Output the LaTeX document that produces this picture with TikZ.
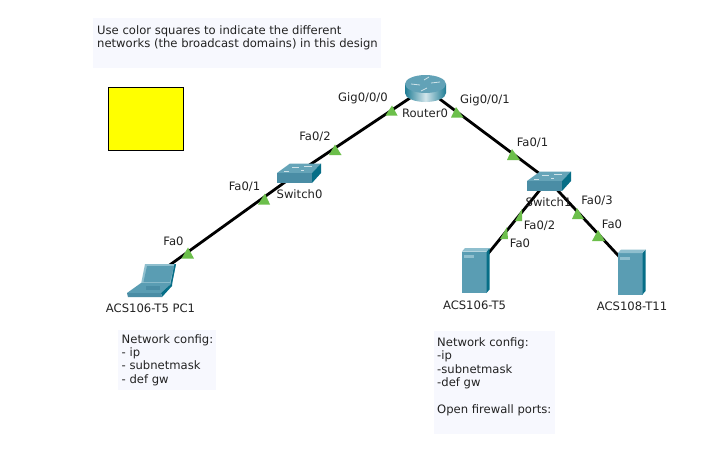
\documentclass[tikz,border=0pt]{standalone}
\usepackage{fontspec}
\setmainfont{DejaVu Sans}
\usetikzlibrary{calc}
\definecolor{note}{HTML}{F7F8FE}
\definecolor{linkgreen}{HTML}{6CBF4B}
\definecolor{teal1}{HTML}{5A9DB3}
\definecolor{teal2}{HTML}{4A8DA5}
\definecolor{teal3}{HTML}{066E87}
\definecolor{teal4}{HTML}{8FBFCE}
\definecolor{ink}{HTML}{222222}
\definecolor{sq}{RGB}{255,255,0}
\tikzset{
  x=1pt,y=-1pt,
  txt/.style={font=\fontsize{11.6}{13.4}\selectfont,text=ink,inner sep=0pt,align=left},
  port/.style={txt,anchor=center},
  devlabel/.style={txt,anchor=center},
  notebox/.style={fill=note,draw=none},
  link/.style={line width=2.8pt,black},
  tri/.style={fill=linkgreen,draw=none},
  dev/.style={inner sep=0pt,minimum size=1pt}
}
\begin{document}
\begin{tikzpicture}
\useasboundingbox (0,0) rectangle (708,459);
\fill[white] (0,0) rectangle (708,459);
% note backgrounds
\fill[notebox] (93,18) rectangle (381,68);
\fill[notebox] (118,330) rectangle (216,390);
\fill[notebox] (434,331) rectangle (555,434);
% yellow square
\draw[fill=sq,draw=black,line width=0.6pt] (108.5,87.5) rectangle (183.5,150.5);
% device anchors
\node[dev] (router) at (425,88) {};
\node[dev] (sw0) at (299,172) {};
\node[dev] (sw1) at (548,180) {};
\node[dev] (pc) at (160,272) {};
\node[dev] (srv1) at (478,266) {};
\node[dev] (srv2) at (628,266) {};
% links
\draw[link] (router) -- (sw0);
\draw[link] (router) -- (sw1);
\draw[link] (sw0) -- (pc);
\draw[link] (sw1) -- (srv1);
\draw[link] (sw1) -- (srv2);
% link lights
\fill[tri] (392,105.5) -- (397.5,115.5) -- (385.5,115.5) -- cycle;
\fill[tri] (456,107) -- (463.5,117.5) -- (451,117.5) -- cycle;
\fill[tri] (335,144.5) -- (341.5,155) -- (329,155) -- cycle;
\fill[tri] (265,193.5) -- (270,204.5) -- (258,204.5) -- cycle;
\fill[tri] (188,247.5) -- (194,258.5) -- (181.5,258.5) -- cycle;
\fill[tri] (512,149) -- (520,160) -- (507,160) -- cycle;
\fill[tri] (577,208) -- (584,219) -- (572,219) -- cycle;
\fill[tri] (598,230) -- (605,241) -- (592,241) -- cycle;
\fill[tri] (522,209) -- (522,221) -- (515,221) -- cycle;
\fill[tri] (507,227) -- (508,239) -- (500,239) -- cycle;
% router icon
\shade[left color=teal3!70!teal1,right color=teal3!70!teal1,middle color=white!60!teal4]
  (405,84) -- (405,93) arc[start angle=180,end angle=0,x radius=20.5,y radius=9] -- (446,84) -- cycle;
\fill[teal1!85!teal4] (425.5,84) ellipse[x radius=20.5,y radius=9];
\draw[white!70!teal1,line width=0.8pt] (411,84) -- (420,85) (431,83) -- (440,82) (424,80) -- (429,77) (427,88) -- (421,91);
% switch icons
\foreach \cx/\cy in {298/173,548/181}{
  \fill[teal1!80!teal4] (\cx-21,\cy+0) -- (\cx-8,\cy-9.5) -- (\cx+23,\cy-9.5) -- (\cx+14,\cy+0) -- cycle;
  \fill[teal2] (\cx-21,\cy+0) rectangle (\cx+14,\cy+10);
  \fill[teal3] (\cx+14,\cy+0) -- (\cx+23,\cy-9.5) -- (\cx+23,\cy) -- (\cx+14,\cy+10) -- cycle;
  \draw[white!70!teal1,line width=0.6pt] (\cx-6,\cy-6) -- (\cx+1,\cy-6) (\cx+6,\cy-7) -- (\cx+14,\cy-7) (\cx-14,\cy-2) -- (\cx-9,\cy-2) (\cx+3,\cy-3) -- (\cx+6,\cy-3);
}
% server icons
\foreach \cx/\ty in {462/248,618/249.5}{
  \fill[teal1] (\cx,\ty+3.5) rectangle (\cx+24.5,\ty+45);
  \fill[teal3] (\cx+24.5,\ty+3.5) -- (\cx+27.5,\ty) -- (\cx+27.5,\ty+41.5) -- (\cx+24.5,\ty+45) -- cycle;
  \fill[teal4] (\cx,\ty+3.5) -- (\cx+3,\ty) -- (\cx+27.5,\ty) -- (\cx+24.5,\ty+3.5) -- cycle;
  \fill[teal4] (\cx+1.5,\ty+7) rectangle (\cx+11.5,\ty+10);
}
% laptop icon
\fill[teal4] (145,264) -- (176,264) -- (172,284) -- (141,284) -- cycle;
\fill[teal1] (147,266) -- (174,266) -- (170,282) -- (143.5,282) -- cycle;
\fill[teal3] (176,264) -- (172,284) -- (170.5,284) -- (174.5,264) -- cycle;
\fill[teal1] (141,283) -- (172,283) -- (161,293) -- (127,293) -- cycle;
\fill[teal3] (172,283) -- (172,286) -- (162,297) -- (161,293) -- cycle;
\fill[teal2] (127,293) -- (161,293) -- (162,297) -- (128,297) -- cycle;
\fill[teal2] (146,286) rectangle (160,290);
% device labels
\node[devlabel] (lr) at (425,113) {Router0};
\node[devlabel] (l0) at (299.5,194) {Switch0};
\node[devlabel] (l1) at (548.5,202) {Switch1};
\node[devlabel] (lp) at (150.5,308) {ACS106-T5 PC1};
\node[devlabel] (ls1) at (474.5,305.5) {ACS106-T5};
\node[devlabel] (ls2) at (632,306) {ACS108-T11};
% ports
\node[port] (p1) at (363,98.5) {Gig0/0/0};
\node[port] (p2) at (485,100.5) {Gig0/0/1};
\node[port] (p3) at (315,137) {Fa0/2};
\node[port] (p4) at (244.5,187) {Fa0/1};
\node[port] (p5) at (173.5,241.5) {Fa0};
\node[port] (p6) at (532.5,143) {Fa0/1};
\node[port] (p7) at (597,201) {Fa0/3};
\node[port] (p8) at (612,224) {Fa0};
\node[port] (p9) at (539.5,226) {Fa0/2};
\node[port] (p10) at (520,243.5) {Fa0};
% notes
\node[txt,anchor=north west] (n1) at (97,25.5) {Use color squares to indicate the different\\networks (the broadcast domains) in this design};
\node[txt,anchor=north west] (n2) at (121.5,334) {Network config:\\- ip\\- subnetmask\\- def gw};
\node[txt,anchor=north west] (n3) at (437,337.5) {Network config:\\-ip\\-subnetmask\\-def gw\\[13.4pt]Open firewall ports:};
\end{tikzpicture}
\end{document}
